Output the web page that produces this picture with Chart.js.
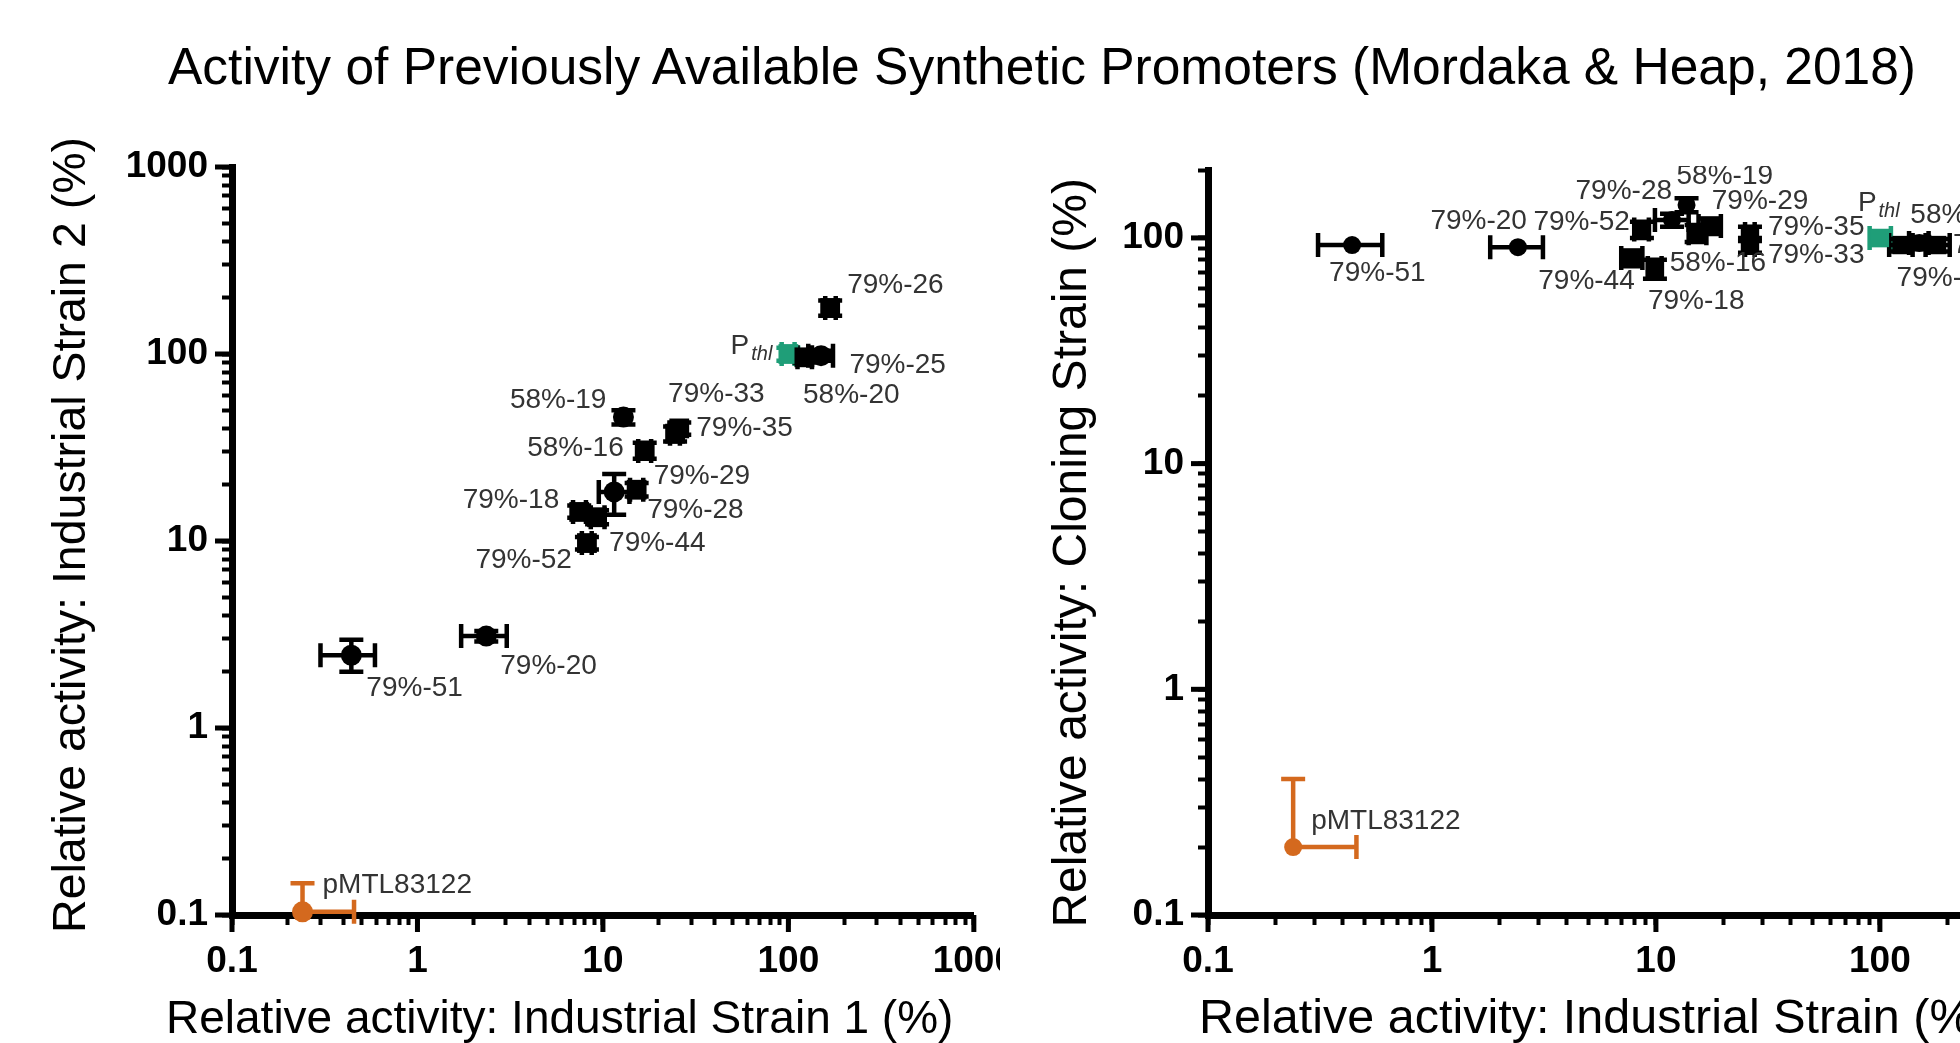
<!DOCTYPE html>
<html>
<head>
<meta charset="utf-8">
<script src="https://cdn.jsdelivr.net/npm/chart.js@4.4.1/dist/chart.umd.min.js"></script>
<style>
  html, body { margin: 0; padding: 0; background: #fff; overflow: hidden; width: 1960px; height: 1043px; }
  #title { position: absolute; left: 168px; top: 40px; font: 51.5px/52px "Liberation Sans", Arial, sans-serif; color: #000; white-space: nowrap; }
  #left { position: absolute; left: 0; top: 110px; }
  #rightWrap { position: absolute; left: 1000px; top: 166px; width: 960px; height: 877px; overflow: hidden; background: #fff; }
  #right { position: absolute; left: 0; top: -40px; }
</style>
</head>
<body>
<div id="title">Activity of Previously Available Synthetic Promoters (Mordaka &amp; Heap, 2018)</div>
<canvas id="left" width="1030" height="933"></canvas>
<div id="rightWrap"><canvas id="right" width="1160" height="917"></canvas></div>
<script>
const FONT = '"Liberation Sans", Arial, sans-serif';

// promoters, same order in both panels
const names = ['79%-51', '79%-20', '79%-52', '79%-44', '79%-18', '79%-28', '79%-29', '58%-16',
               '58%-19', '79%-33', '79%-35', 'Pthl', '79%-25', '58%-20', '79%-26', 'pMTL83122'];

// left panel: industrial strain 1 (x) vs industrial strain 2 (y), %
const ind1 = [0.44, 2.35, 8.2, 9.3, 7.45, 11.5, 15.2, 16.8, 12.9, 24.5, 25.8, 100, 122, 150, 168, 0.24];
const ind2 = [2.45, 3.1, 9.75, 13.4, 14.3, 18.3, 18.8, 30.3, 46, 37.5, 40, 100, 96, 98, 176, 0.104];
const ind1Low  = [0.30, 1.72, 7.7, 8.6, 6.9, 9.5, 14.0, 15.5, null, 23.0, null, 92, 112, 128, 158, null];
const ind1High = [0.59, 3.03, 8.7, 10.2, 8.1, 13.9, 16.5, 18.2, null, 26.0, null, 108, 134, 174, 180, 0.455];
const ind2Low  = [2.0, 2.9, 9.0, 12.3, 13.3, 13.8, 17.3, 27.5, 42, 34, 37, 92, 90, 92, 160, null];
const ind2High = [2.96, 3.3, 10.5, 14.6, 15.5, 22.8, 20.4, 33.5, 50, 41, 43, 108, 103, 104, 193, 0.148];

// right panel: industrial strain (x) vs cloning strain (y), %
const indX = [0.44, 2.42, 8.66, 7.8, 9.9, 11.8, 17.4, 15.2, 13.7, 26.3, 26.3, 100, 125, 150, 180, 0.24];
const cloY = [93, 91, 109, 81.5, 73.6, 120, 113, 105, 140, 93, 104, 100, 93, 95, 93, 0.2];
const indXLow  = [0.31, 1.82, 8.0, 7.0, 9.2, 9.9, 15.5, 14.0, null, 25.0, 25.0, 90, 110, 135, 160, null];
const indXHigh = [0.60, 3.13, 9.3, 8.7, 10.6, 14.0, 19.5, 16.8, null, 27.6, 27.6, 112, 140, 165, 205, 0.46];
const cloYLow  = [null, null, 100, 75, 66, 112, 104, 96, 130, 86, 97, 93, 87, 89, 87, null];
const cloYHigh = [null, null, 118, 88, 80, 128, 122, 114, 150, 100, 112, 107, 99, 101, 99, 0.4];

// log axis decades and their tick labels
const decadesX = [0.1, 1, 10, 100, 1000];
const labelsX = ['0.1', '1', '10', '100', '1000'];
const decadesYLeft = [0.1, 1, 10, 100, 1000];
const labelsYLeft = ['0.1', '1', '10', '100', '1000'];
const decadesYRight = [0.1, 1, 10, 100];
const labelsYRight = ['0.1', '1', '10', '100'];

// marker look per promoter
const shapes = names.map(n => ['79%-51', '79%-20', '79%-28', '58%-19', '58%-20', 'pMTL83122'].includes(n) ? 'circle' : 'rect');
const colors = names.map(n => n === 'Pthl' ? '#1f9e78' : n === 'pMTL83122' ? '#d4691e' : '#000');

// label placement next to each point: [dx, dy, align]
const leftLabelPos = [[15, 33, 'left'], [14, 30, 'left'], [-15, 17, 'right'], [12, 26, 'left'], [-20, -12, 'right'],
  [33, 18, 'left'], [17, -13, 'left'], [-21, -3, 'right'], [-17, -17, 'right'], [-7, -39, 'left'], [17, 0, 'left'],
  [-16, -8, 'right'], [45, 8, 'left'], [-18, 40, 'left'], [17, -23, 'left'], [20, -27, 'left']];
const rightLabelPos = [[-23, 28, 'left'], [9, -26, 'right'], [-12, -7, 'right'], [3, 23, 'right'], [-7, 33, 'left'],
  [0, -29, 'right'], [2, -25, 'left'], [-27, 30, 'left'], [-10, -29, 'left'], [18, 10, 'left'], [18, -7, 'left'],
  [-22, -35, 'left'], [-5, 33, 'left'], [-9, -28, 'left'], [16, 0, 'left'], [18, -26, 'left']];

function logAxis(min, max, decades, labels, fit, horizontal) {
  return {
    type: 'logarithmic', min: min, max: max,
    afterBuildTicks: s => {
      const vals = [];
      decades.forEach(d => { for (let k = 1; k <= 9; k++) { const v = d * k; if (v <= max * 1.0001) vals.push(v); } });
      s.ticks = vals.map(v => ({ value: v, major: decades.includes(v) }));
    },
    afterFit: s => { if (horizontal) s.height = fit; else s.width = fit; },
    ticks: {
      autoSkip: false, maxRotation: 0, minRotation: 0, padding: horizontal ? 15 : 14, color: '#000',
      font: { family: FONT, size: 37, weight: 'bold' },
      callback: v => { const i = decades.indexOf(v); return i < 0 ? '' : labels[i]; }
    },
    grid: { drawOnChartArea: false, drawTicks: true, tickLength: 10, tickWidth: 4, tickColor: '#000' },
    border: { display: true, width: 7, color: '#000' }
  };
}

function panelPlugins(xLow, xHigh, yLow, yHigh, labelPos, titles) {
  const errorBars = {
    id: 'errorBars',
    beforeDatasetsDraw(chart) {
      const { ctx, scales: { x, y } } = chart;
      const cap = 12;
      ctx.save();
      ctx.lineWidth = 4.5;
      chart.getDatasetMeta(0).data.forEach((pt, i) => {
        ctx.strokeStyle = colors[i];
        ctx.beginPath();
        if (xLow[i] != null || xHigh[i] != null) {
          const a = xLow[i] != null ? x.getPixelForValue(xLow[i]) : pt.x;
          const b = xHigh[i] != null ? x.getPixelForValue(xHigh[i]) : pt.x;
          ctx.moveTo(a, pt.y); ctx.lineTo(b, pt.y);
          if (xLow[i] != null) { ctx.moveTo(a, pt.y - cap); ctx.lineTo(a, pt.y + cap); }
          if (xHigh[i] != null) { ctx.moveTo(b, pt.y - cap); ctx.lineTo(b, pt.y + cap); }
        }
        if (yLow[i] != null || yHigh[i] != null) {
          const a = yLow[i] != null ? y.getPixelForValue(yLow[i]) : pt.y;
          const b = yHigh[i] != null ? y.getPixelForValue(yHigh[i]) : pt.y;
          ctx.moveTo(pt.x, a); ctx.lineTo(pt.x, b);
          if (yLow[i] != null) { ctx.moveTo(pt.x - cap, a); ctx.lineTo(pt.x + cap, a); }
          if (yHigh[i] != null) { ctx.moveTo(pt.x - cap, b); ctx.lineTo(pt.x + cap, b); }
        }
        ctx.stroke();
      });
      ctx.restore();
    }
  };
  const pointLabels = {
    id: 'pointLabels',
    afterDatasetsDraw(chart) {
      const ctx = chart.ctx;
      ctx.save();
      ctx.fillStyle = '#333';
      ctx.textBaseline = 'middle';
      chart.getDatasetMeta(0).data.forEach((pt, i) => {
        const [dx, dy, align] = labelPos[i];
        const tx = pt.x + dx, ty = pt.y + dy;
        if (names[i] === 'Pthl') {
          ctx.font = '28px ' + FONT;
          const wP = ctx.measureText('P').width;
          ctx.font = 'italic 20px ' + FONT;
          const wS = ctx.measureText('thl').width;
          const x0 = align === 'right' ? tx - wP - wS - 2 : tx;
          ctx.textAlign = 'left';
          ctx.font = '28px ' + FONT;
          ctx.fillText('P', x0, ty);
          ctx.font = 'italic 20px ' + FONT;
          ctx.fillText('thl', x0 + wP + 2, ty + 8);
        } else {
          ctx.font = '28px ' + FONT;
          ctx.textAlign = align;
          ctx.fillText(names[i], tx, ty);
        }
      });
      ctx.restore();
    }
  };
  const majorTicks = {
    id: 'majorTicks',
    afterDraw(chart) {
      const { ctx, chartArea, scales: { x, y } } = chart;
      ctx.save();
      ctx.fillStyle = '#000';
      x.ticks.filter(t => t.major).forEach(t => {
        const px = x.getPixelForValue(t.value);
        ctx.fillRect(px - 2.5, chartArea.bottom, 5, 17);
      });
      y.ticks.filter(t => t.major).forEach(t => {
        const py = y.getPixelForValue(t.value);
        ctx.fillRect(chartArea.left - 17, py - 2.5, 17, 5);
      });
      ctx.restore();
    }
  };
  const axisTitles = {
    id: 'axisTitles',
    afterDraw(chart) {
      const ctx = chart.ctx;
      ctx.save();
      ctx.fillStyle = '#000';
      ctx.textBaseline = 'alphabetic';
      titles.forEach(t => {
        ctx.save();
        ctx.translate(t.x, t.y);
        if (t.rotate) ctx.rotate(-Math.PI / 2);
        ctx.font = t.size + 'px ' + FONT;
        ctx.textAlign = t.align;
        ctx.fillText(t.text, 0, 0);
        ctx.restore();
      });
      ctx.restore();
    }
  };
  return [errorBars, pointLabels, majorTicks, axisTitles];
}

function drawPanel(canvas, xs, ys, cfg) {
  return new Chart(canvas, {
    type: 'scatter',
    data: {
      datasets: [{
        data: xs.map((x, i) => ({ x: x, y: ys[i] })),
        pointStyle: shapes,
        pointRadius: shapes.map(s => s === 'circle' ? cfg.circleR : cfg.rectR),
        backgroundColor: colors,
        borderColor: colors,
        borderWidth: 0,
        clip: false
      }]
    },
    options: {
      responsive: false,
      animation: false,
      events: [],
      layout: { padding: cfg.padding },
      plugins: { legend: { display: false }, tooltip: { enabled: false } },
      scales: {
        x: logAxis(0.1, 1000, decadesX, labelsX, 128, true),
        y: logAxis(0.1, cfg.yMax, cfg.yDecades, cfg.yLabels, cfg.yWidth, false)
      }
    },
    plugins: panelPlugins(cfg.xLow, cfg.xHigh, cfg.yLow, cfg.yHigh, cfg.labelPos, cfg.titles)
  });
}

drawPanel(document.getElementById('left'), ind1, ind2, {
  padding: { top: 57, right: 50, left: 0, bottom: 0 },
  yMax: 1000, yDecades: decadesYLeft, yLabels: labelsYLeft, yWidth: 232,
  circleR: 10.5, rectR: 14,
  xLow: ind1Low, xHigh: ind1High, yLow: ind2Low, yHigh: ind2High, labelPos: leftLabelPos,
  titles: [
    { text: 'Relative activity: Industrial Strain 1 (%)', x: 166, y: 923, align: 'left', size: 46 },
    { text: 'Relative activity: Industrial Strain 2 (%)', x: 85, y: 27, align: 'right', size: 46.5, rotate: true }
  ]
});

drawPanel(document.getElementById('right'), indX, cloY, {
  padding: { top: 44, right: 56, left: 0, bottom: 0 },
  yMax: 200, yDecades: decadesYRight, yLabels: labelsYRight, yWidth: 208,
  circleR: 9, rectR: 13,
  xLow: indXLow, xHigh: indXHigh, yLow: cloYLow, yHigh: cloYHigh, labelPos: rightLabelPos,
  titles: [
    { text: 'Relative activity: Industrial Strain (%)', x: 199, y: 907, align: 'left', size: 48.5 },
    { text: 'Relative activity: Cloning Strain (%)', x: 86, y: 52, align: 'right', size: 48, rotate: true }
  ]
});
</script>
</body>
</html>
